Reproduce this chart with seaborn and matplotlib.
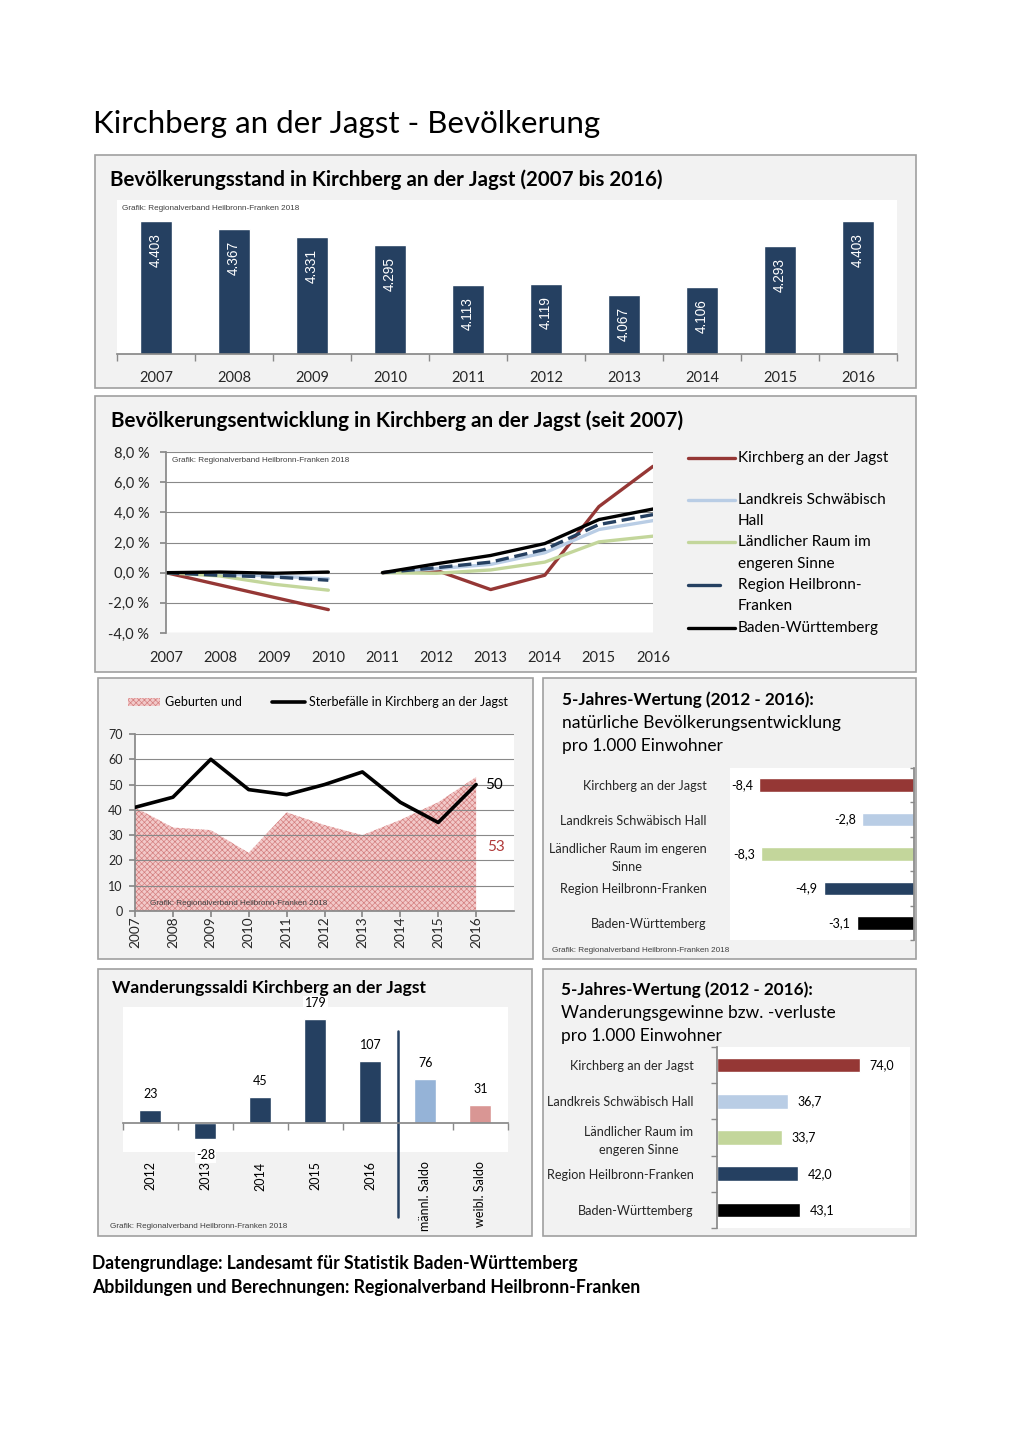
import numpy as np
import pandas as pd
import matplotlib
matplotlib.use('Agg')
import matplotlib.pyplot as plt
import seaborn as sns
from matplotlib.patches import Rectangle
from matplotlib.lines import Line2D
from matplotlib.ticker import FuncFormatter

# ---- Daten ----
jahre = [2007, 2008, 2009, 2010, 2011, 2012, 2013, 2014, 2015, 2016]
einwohner = [4403, 4367, 4331, 4295, 4113, 4119, 4067, 4106, 4293, 4403]

# Bevoelkerungsentwicklung in % (Basis 2007 bzw. 2011)
entw_kirchberg = [0.0, -0.82, -1.64, -2.45, 0.0, 0.15, -1.12, -0.17, 4.38, 7.05]
entw_landkreis = [0.0, -0.10, -0.22, -0.40, 0.0, 0.26, 0.55, 1.32, 2.86, 3.45]
entw_laendlich = [0.0, -0.22, -0.77, -1.16, 0.0, -0.04, 0.18, 0.70, 2.04, 2.42]
entw_region = [0.0, -0.18, -0.29, -0.50, 0.0, 0.33, 0.70, 1.54, 3.19, 3.85]
entw_bw = [0.0, 0.04, -0.04, 0.04, 0.0, 0.59, 1.14, 1.93, 3.52, 4.22]

geburten = [41, 33, 32, 23, 39, 34, 30, 36, 43, 53]
sterbefaelle = [41, 45, 60, 48, 46, 50, 55, 43, 35, 50]

vergleich_nat = ['Kirchberg an der Jagst', 'Landkreis Schwäbisch Hall',
                 'Ländlicher Raum im engeren\nSinne', 'Region Heilbronn-Franken',
                 'Baden-Württemberg']
nat_entw = [-8.4, -2.8, -8.3, -4.9, -3.1]

vergleich_wand = ['Kirchberg an der Jagst', 'Landkreis Schwäbisch Hall',
                  'Ländlicher Raum im\nengeren Sinne', 'Region Heilbronn-Franken',
                  'Baden-Württemberg']
wand_gewinn = [74.0, 36.7, 33.7, 42.0, 43.1]

saldo_kat = ['2012', '2013', '2014', '2015', '2016', 'männl. Saldo', 'weibl. Saldo']
saldo = [23, -28, 45, 179, 107, 76, 31]

# ---- Farben ----
NAVY = '#254061'
ROT = '#953735'
HELLBLAU = '#B9CDE5'
GRUEN = '#C3D69B'
GRAU = '#898989'
PINK = '#F2C9C9'
PINK_HATCH = '#D47F7F'
vergleich_farben = [ROT, HELLBLAU, GRUEN, NAVY, 'black']
saldo_farben = [NAVY] * 5 + ['#95B3D7', '#D99694']

sns.set_theme(style='white')
plt.rcParams['font.family'] = ['Lato', 'DejaVu Sans']
plt.rcParams['hatch.linewidth'] = 0.5
plt.rcParams['text.color'] = 'black'

W, H = 1020, 1443
fig = plt.figure(figsize=(W / 100, H / 100), dpi=100)
fig.patch.set_facecolor('white')


def px_axes(x0, y0, x1, y1):
    return fig.add_axes([x0 / W, 1 - y1 / H, (x1 - x0) / W, (y1 - y0) / H])


def box(x0, y0, x1, y1):
    fig.patches.append(Rectangle((x0 / W, 1 - y1 / H), (x1 - x0) / W, (y1 - y0) / H,
                                 transform=fig.transFigure, facecolor='#F2F2F2',
                                 edgecolor='#A0A0A0', lw=1.2, zorder=-1))


def ftext(x, y, s, **kw):
    kw.setdefault('va', 'center')
    return fig.text(x / W, 1 - y / H, s, **kw)


def fit_text(t, breite):
    r = fig.canvas.get_renderer()
    w = t.get_window_extent(r).width
    t.set_fontsize(t.get_fontsize() * breite / w)


def grafik(ax, x, y, **kw):
    ax.text(x, y, 'Grafik: Regionalverband Heilbronn-Franken 2018', transform=ax.transAxes,
            fontsize=5.9, family='Liberation Sans', color='#404040', **kw)


def fline(x0, x1, y, **kw):
    fig.lines.append(Line2D([x0 / W, x1 / W], [1 - y / H, 1 - y / H],
                            transform=fig.transFigure, **kw))


# ---- Haupttitel ----
t = ftext(93, 124, 'Kirchberg an der Jagst - Bevölkerung', fontsize=20)
fit_text(t, 507)

# ---- 1: Bevoelkerungsstand ----
box(95, 155, 916, 388)
t = ftext(110, 180, 'Bevölkerungsstand in Kirchberg an der Jagst (2007 bis 2016)',
          fontsize=13, weight='bold')
fit_text(t, 552)
ax1 = px_axes(117, 200, 897, 354)
sns.barplot(x=[str(j) for j in jahre], y=einwohner, color=NAVY, width=0.4,
            saturation=1, ax=ax1)
ax1.set_ylim(3800, 4500)
ax1.set_xlim(-0.5, 9.5)
for i, v in enumerate(einwohner):
    ax1.text(i, v - 55, f'{v:,}'.replace(',', '.'), rotation=90, ha='center', va='top',
             color='white', fontsize=9.8, family='Liberation Sans')
ax1.set_yticks([])
sns.despine(ax=ax1, left=True)
ax1.spines['bottom'].set_color(GRAU)
ax1.set_xticks(np.arange(-0.5, 10, 1), minor=True)
ax1.tick_params(axis='x', which='major', length=0, labelsize=10.5, pad=12)
ax1.tick_params(axis='x', which='minor', bottom=True, length=5, color=GRAU, width=1)
ax1.set_xlabel('')
ax1.set_ylabel('')
grafik(ax1, 0.007, 0.97, va='top')

# ---- 2: Bevoelkerungsentwicklung ----
box(95, 396, 916, 672)
t = ftext(111, 421, 'Bevölkerungsentwicklung in Kirchberg an der Jagst (seit 2007)',
          fontsize=13, weight='bold')
fit_text(t, 571)
reihen = {
    'Kirchberg an der Jagst': entw_kirchberg,
    'Landkreis Schwäbisch Hall': entw_landkreis,
    'Ländlicher Raum im engeren Sinne': entw_laendlich,
    'Region Heilbronn-Franken': entw_region,
    'Baden-Württemberg': entw_bw,
}
zeilen = []
for name, werte in reihen.items():
    for j, w in zip(jahre, werte):
        zeilen.append((name, j, w, 'a' if j <= 2010 else 'b'))
df2 = pd.DataFrame(zeilen, columns=['reihe', 'jahr', 'wert', 'abschnitt'])
namen = list(reihen.keys())
farben2 = dict(zip(namen, [ROT, HELLBLAU, GRUEN, NAVY, 'black']))
striche = {n: '' for n in namen}
striche['Region Heilbronn-Franken'] = (4, 1.7)

ax2 = px_axes(166, 452, 653, 633)
sns.lineplot(data=df2, x='jahr', y='wert', hue='reihe', style='reihe', units='abschnitt',
             estimator=None, palette=farben2, dashes=striche, hue_order=namen,
             style_order=namen, lw=2.4, legend=False, ax=ax2)
ax2.set_xlim(2007, 2016)
ax2.set_ylim(-4, 8)
ax2.set_yticks(np.arange(-4, 9, 2))
ax2.yaxis.set_major_formatter(FuncFormatter(lambda v, p: f'{v:.1f} %'.replace('.', ',')))
ax2.set_xticks(jahre)
ax2.grid(axis='y', color=GRAU, lw=0.8)
ax2.set_axisbelow(True)
for s in ['top', 'right', 'bottom']:
    ax2.spines[s].set_visible(False)
ax2.spines['left'].set_color(GRAU)
ax2.tick_params(axis='y', left=True, length=4, color=GRAU, labelsize=10.5, pad=8)
ax2.tick_params(axis='x', length=0, labelsize=10.5, pad=13)
ax2.set_xlabel('')
ax2.set_ylabel('')
grafik(ax2, 0.012, 0.975, va='top')

# Legende
leg = [
    (ROT, 735, [(458, 'Kirchberg an der Jagst')]),
    (HELLBLAU, 735, [(500, 'Landkreis Schwäbisch'), (521, 'Hall')]),
    (GRUEN, 735, [(542, 'Ländlicher Raum im'), (564, 'engeren Sinne')]),
    (NAVY, 720, [(585, 'Region Heilbronn-'), (606, 'Franken')]),
    ('black', 735, [(628, 'Baden-Württemberg')]),
]
for farbe, xe, zl in leg:
    fline(688, xe, zl[0][0], color=farbe, lw=2.4)
    for y, s in zl:
        ftext(738, y, s, fontsize=11.1)

# ---- 3: Geburten und Sterbefaelle ----
box(98, 678, 533, 959)
ax3 = px_axes(135, 734, 514, 911)
ax3.fill_between(jahre, geburten, 0, facecolor=PINK, edgecolor=PINK_HATCH,
                 hatch='xxxxxx', lw=0)
sns.lineplot(x=jahre, y=sterbefaelle, color='black', lw=2.6, zorder=3, ax=ax3)
ax3.set_xlim(2007, 2017)
ax3.set_ylim(0, 70)
ax3.set_yticks(range(0, 71, 10))
ax3.set_xticks(jahre)
ax3.grid(axis='y', color=GRAU, lw=0.8)
ax3.set_axisbelow(False)
for s in ['top', 'right']:
    ax3.spines[s].set_visible(False)
for s in ['left', 'bottom']:
    ax3.spines[s].set_color(GRAU)
ax3.tick_params(axis='y', left=True, length=4, color=GRAU, labelsize=9, pad=5)
ax3.tick_params(axis='x', bottom=True, length=4, color=GRAU, labelsize=9.8, pad=0,
                rotation=90)
ax3.set_xlabel('')
ax3.set_ylabel('')
ax3.text(2016.25, sterbefaelle[-1], str(sterbefaelle[-1]), ha='left', va='center',
         fontsize=11, color='black', zorder=5)
ax3.text(2016.3, 25.3, str(geburten[-1]), ha='left', va='center', fontsize=11,
         color='#B03A3A', zorder=5,
         bbox=dict(facecolor='white', edgecolor='none', pad=2))
grafik(ax3, 0.04, 0.025, va='bottom')

# Legende oben
fig.patches.append(Rectangle((128 / W, 1 - 706 / H), 32 / W, 8 / H, transform=fig.transFigure,
                             facecolor=PINK, edgecolor=PINK_HATCH, hatch='xxxxxx', lw=0))
ftext(165, 702, 'Geburten und', fontsize=9)
fline(272, 305, 702, color='black', lw=2.6)
ftext(309, 702, 'Sterbefälle in Kirchberg an der Jagst', fontsize=9)

# ---- 4: natuerliche Bevoelkerungsentwicklung ----
box(543, 678, 916, 959)
t = ftext(562, 700, '5-Jahres-Wertung (2012 - 2016):', fontsize=12, weight='bold')
fit_text(t, 251)
t = ftext(562, 723, 'natürliche Bevölkerungsentwicklung', fontsize=12)
fit_text(t, 278)
t = ftext(562, 746, 'pro 1.000 Einwohner', fontsize=12)
fit_text(t, 160)
ax4 = px_axes(730, 768, 914, 940)
sns.barplot(x=nat_entw, y=vergleich_nat, hue=vergleich_nat, palette=vergleich_farben,
            legend=False, orient='h', width=0.4, saturation=1, ax=ax4)
ax4.set_xlim(-10, 0)
ax4.set_xticks([])
for s in ['top', 'left', 'bottom']:
    ax4.spines[s].set_visible(False)
ax4.spines['right'].set_color(GRAU)
ax4.set_yticks(np.arange(-0.5, 5, 1), minor=True)
ax4.tick_params(axis='y', which='major', length=0, labelsize=9.1, pad=17)
ax4.tick_params(axis='y', which='minor', left=False, right=True, direction='in',
                length=3, color=GRAU)
for lbl in ax4.get_yticklabels():
    lbl.set_multialignment('center')
    lbl.set_linespacing(1.6)
for i, v in enumerate(nat_entw):
    ax4.text(v - 0.35, i, f'{v:.1f}'.replace('.', ','), ha='right', va='center', fontsize=9)
ax4.set_xlabel('')
ax4.set_ylabel('')
ftext(552, 951, 'Grafik: Regionalverband Heilbronn-Franken 2018', fontsize=5.9,
      family='Liberation Sans', color='#404040')

# ---- 5: Wanderungssaldi ----
box(98, 969, 532, 1236)
t = ftext(112, 988, 'Wanderungssaldi Kirchberg an der Jagst', fontsize=12, weight='bold')
fit_text(t, 311)
ax5 = px_axes(123, 1007, 508, 1152)
sns.barplot(x=saldo_kat, y=saldo, hue=saldo_kat, palette=saldo_farben, legend=False,
            width=0.4, saturation=1, ax=ax5)
ax5.set_ylim(-50, 200)
ax5.set_xlim(-0.5, 6.5)
ax5.set_yticks([])
for s in ['top', 'left', 'right']:
    ax5.spines[s].set_visible(False)
ax5.spines['bottom'].set_position(('data', 0))
ax5.spines['bottom'].set_color(GRAU)
ax5.set_xticks(range(len(saldo_kat)))
ax5.set_xticklabels([])
ax5.set_xticks(np.arange(-0.5, 7, 1), minor=True)
ax5.tick_params(axis='x', which='major', length=0)
ax5.tick_params(axis='x', which='minor', bottom=True, length=5, color=GRAU)
for i, (k, v) in enumerate(zip(saldo_kat, saldo)):
    ax5.text(i, -0.065, k, transform=ax5.get_xaxis_transform(), rotation=90,
             ha='center', va='top', fontsize=9)
    ax5.annotate(str(v), (i, v), xytext=(0, 11.5 if v >= 0 else -11.5),
                 textcoords='offset points', ha='center', va='center', fontsize=9,
                 bbox=dict(facecolor='white', edgecolor='none', pad=1), zorder=5)
ax5.axvline(4.5, ymin=-0.45, ymax=0.835, color=NAVY, lw=1.8, clip_on=False)
ax5.set_xlabel('')
ax5.set_ylabel('')
ftext(110, 1226, 'Grafik: Regionalverband Heilbronn-Franken 2018', fontsize=5.9,
      family='Liberation Sans', color='#404040')

# ---- 6: Wanderungsgewinne ----
box(543, 969, 916, 1236)
t = ftext(561, 990, '5-Jahres-Wertung (2012 - 2016):', fontsize=12, weight='bold')
fit_text(t, 251)
t = ftext(561, 1013, 'Wanderungsgewinne bzw. -verluste', fontsize=12)
fit_text(t, 274)
t = ftext(561, 1036, 'pro 1.000 Einwohner', fontsize=12)
fit_text(t, 160)
ax6 = px_axes(717, 1047, 910, 1228)
sns.barplot(x=wand_gewinn, y=vergleich_wand, hue=vergleich_wand, palette=vergleich_farben,
            legend=False, orient='h', width=0.4, saturation=1, ax=ax6)
ax6.set_xlim(0, 100)
ax6.set_xticks([])
for s in ['top', 'right', 'bottom']:
    ax6.spines[s].set_visible(False)
ax6.spines['left'].set_color(GRAU)
ax6.set_yticks(np.arange(-0.5, 5, 1), minor=True)
ax6.tick_params(axis='y', which='major', length=0, labelsize=9.1, pad=17)
ax6.tick_params(axis='y', which='minor', left=True, length=4, color=GRAU)
for lbl in ax6.get_yticklabels():
    lbl.set_multialignment('center')
    lbl.set_linespacing(1.6)
for i, v in enumerate(wand_gewinn):
    ax6.text(v + 5, i, f'{v:.1f}'.replace('.', ','), ha='left', va='center', fontsize=9)
ax6.set_xlabel('')
ax6.set_ylabel('')

# ---- Quellen ----
t = ftext(92, 1263, 'Datengrundlage: Landesamt für Statistik Baden-Württemberg',
          fontsize=11, weight='bold')
fit_text(t, 483)
t = ftext(92, 1288, 'Abbildungen und Berechnungen: Regionalverband Heilbronn-Franken',
          fontsize=11, weight='bold')
fit_text(t, 545)

fig.savefig('out.png', dpi=100)
